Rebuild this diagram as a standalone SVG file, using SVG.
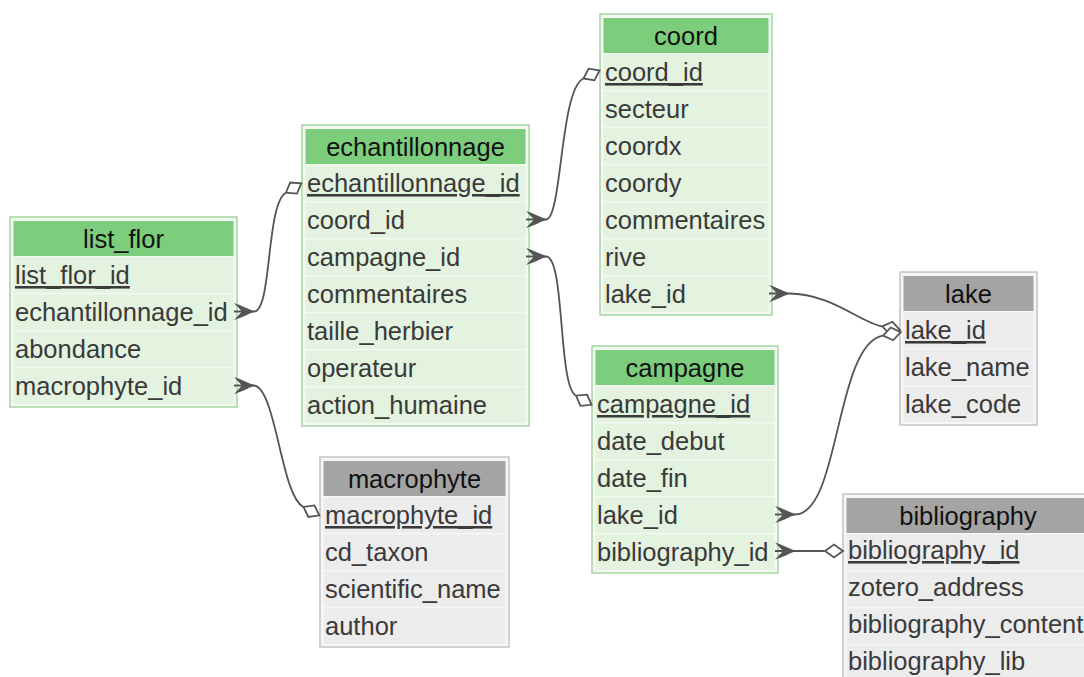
<svg xmlns="http://www.w3.org/2000/svg" width="1084" height="677" viewBox="0 0 1084 677">
<style>
.fg{fill:#f1f9f0;stroke:#a6d3a2;stroke-width:1.5}
.fk{fill:#f6f6f6;stroke:#c4c4c4;stroke-width:1.5}
.hg{fill:#7ccd7c}
.hk{fill:#a4a4a4}
.rg{fill:#e3f3e0}
.rk{fill:#ececec}
.title{font-family:"Liberation Sans",Arial,sans-serif;font-size:25.5px;fill:#111;text-anchor:middle}
.col{font-family:"Liberation Sans",Arial,sans-serif;font-size:25.5px;fill:#3a3a3a}
.pk{text-decoration:underline}
.conn{fill:none;stroke:#555;stroke-width:1.8}
</style>
<defs>
<marker id="many" markerUnits="userSpaceOnUse" orient="auto" refX="0" refY="0" markerWidth="30" markerHeight="30" style="overflow:visible">
<path d="M0,-8.5 C7,-6.5 13,-3 21,0 C13,3 7,6.5 0,8.5 L8,0 Z" fill="#555"/>
</marker>
<marker id="one" markerUnits="userSpaceOnUse" orient="auto" refX="0" refY="0" markerWidth="30" markerHeight="30" style="overflow:visible">
<path d="M0.5,0 L9.5,-6.5 L18.5,0 L9.5,6.5 Z" fill="#fff" stroke="#555" stroke-width="1.8"/>
</marker>
</defs>
<rect width="1084" height="677" fill="#fff"/>

<g id="list_flor" transform="translate(10,217)">
<rect class="fg" x="0" y="0" width="227" height="190"/>
<rect class="hg" x="3.5" y="4" width="220" height="35"/>
<text class="title" x="113.5" y="31">list_flor</text>
<rect class="rg" x="3.5" y="40.5" width="220" height="35.5"/>
<rect class="rg" x="3.5" y="77.5" width="220" height="35.5"/>
<rect class="rg" x="3.5" y="114.5" width="220" height="35.5"/>
<rect class="rg" x="3.5" y="151.5" width="220" height="35.5"/>
<text class="col pk" x="5" y="67">list_flor_id</text>
<text class="col" x="5" y="104">echantillonnage_id</text>
<text class="col" x="5" y="141">abondance</text>
<text class="col" x="5" y="178">macrophyte_id</text>
</g>

<g id="echantillonnage" transform="translate(302,125)">
<rect class="fg" x="0" y="0" width="227" height="301"/>
<rect class="hg" x="3.5" y="4" width="220" height="35"/>
<text class="title" x="113.5" y="31">echantillonnage</text>
<rect class="rg" x="3.5" y="40.5" width="220" height="35.5"/>
<rect class="rg" x="3.5" y="77.5" width="220" height="35.5"/>
<rect class="rg" x="3.5" y="114.5" width="220" height="35.5"/>
<rect class="rg" x="3.5" y="151.5" width="220" height="35.5"/>
<rect class="rg" x="3.5" y="188.5" width="220" height="35.5"/>
<rect class="rg" x="3.5" y="225.5" width="220" height="35.5"/>
<rect class="rg" x="3.5" y="262.5" width="220" height="35.5"/>
<text class="col pk" x="5" y="67">echantillonnage_id</text>
<text class="col" x="5" y="104">coord_id</text>
<text class="col" x="5" y="141">campagne_id</text>
<text class="col" x="5" y="178">commentaires</text>
<text class="col" x="5" y="215">taille_herbier</text>
<text class="col" x="5" y="252">operateur</text>
<text class="col" x="5" y="289">action_humaine</text>
</g>

<g id="coord" transform="translate(600,14)">
<rect class="fg" x="0" y="0" width="172" height="301"/>
<rect class="hg" x="3.5" y="4" width="165" height="35"/>
<text class="title" x="86" y="31">coord</text>
<rect class="rg" x="3.5" y="40.5" width="165" height="35.5"/>
<rect class="rg" x="3.5" y="77.5" width="165" height="35.5"/>
<rect class="rg" x="3.5" y="114.5" width="165" height="35.5"/>
<rect class="rg" x="3.5" y="151.5" width="165" height="35.5"/>
<rect class="rg" x="3.5" y="188.5" width="165" height="35.5"/>
<rect class="rg" x="3.5" y="225.5" width="165" height="35.5"/>
<rect class="rg" x="3.5" y="262.5" width="165" height="35.5"/>
<text class="col pk" x="5" y="67">coord_id</text>
<text class="col" x="5" y="104">secteur</text>
<text class="col" x="5" y="141">coordx</text>
<text class="col" x="5" y="178">coordy</text>
<text class="col" x="5" y="215">commentaires</text>
<text class="col" x="5" y="252">rive</text>
<text class="col" x="5" y="289">lake_id</text>
</g>

<g id="lake" transform="translate(900,272)">
<rect class="fk" x="0" y="0" width="137" height="153"/>
<rect class="hk" x="3.5" y="4" width="130" height="35"/>
<text class="title" x="68.5" y="31">lake</text>
<rect class="rk" x="3.5" y="40.5" width="130" height="35.5"/>
<rect class="rk" x="3.5" y="77.5" width="130" height="35.5"/>
<rect class="rk" x="3.5" y="114.5" width="130" height="35.5"/>
<text class="col pk" x="5" y="67">lake_id</text>
<text class="col" x="5" y="104">lake_name</text>
<text class="col" x="5" y="141">lake_code</text>
</g>

<g id="campagne" transform="translate(592,346)">
<rect class="fg" x="0" y="0" width="186" height="227"/>
<rect class="hg" x="3.5" y="4" width="179" height="35"/>
<text class="title" x="93" y="31">campagne</text>
<rect class="rg" x="3.5" y="40.5" width="179" height="35.5"/>
<rect class="rg" x="3.5" y="77.5" width="179" height="35.5"/>
<rect class="rg" x="3.5" y="114.5" width="179" height="35.5"/>
<rect class="rg" x="3.5" y="151.5" width="179" height="35.5"/>
<rect class="rg" x="3.5" y="188.5" width="179" height="35.5"/>
<text class="col pk" x="5" y="67">campagne_id</text>
<text class="col" x="5" y="104">date_debut</text>
<text class="col" x="5" y="141">date_fin</text>
<text class="col" x="5" y="178">lake_id</text>
<text class="col" x="5" y="215">bibliography_id</text>
</g>

<g id="macrophyte" transform="translate(320,457)">
<rect class="fk" x="0" y="0" width="189" height="190"/>
<rect class="hk" x="3.5" y="4" width="182" height="35"/>
<text class="title" x="94.5" y="31">macrophyte</text>
<rect class="rk" x="3.5" y="40.5" width="182" height="35.5"/>
<rect class="rk" x="3.5" y="77.5" width="182" height="35.5"/>
<rect class="rk" x="3.5" y="114.5" width="182" height="35.5"/>
<rect class="rk" x="3.5" y="151.5" width="182" height="35.5"/>
<text class="col pk" x="5" y="67">macrophyte_id</text>
<text class="col" x="5" y="104">cd_taxon</text>
<text class="col" x="5" y="141">scientific_name</text>
<text class="col" x="5" y="178">author</text>
</g>

<g id="bibliography" transform="translate(843,494)">
<rect class="fk" x="0" y="0" width="250" height="190"/>
<rect class="hk" x="3.5" y="4" width="243" height="35"/>
<text class="title" x="125" y="31">bibliography</text>
<rect class="rk" x="3.5" y="40.5" width="243" height="35.5"/>
<rect class="rk" x="3.5" y="77.5" width="243" height="35.5"/>
<rect class="rk" x="3.5" y="114.5" width="243" height="35.5"/>
<rect class="rk" x="3.5" y="151.5" width="243" height="35.5"/>
<text class="col pk" x="5" y="65">bibliography_id</text>
<text class="col" x="5" y="102">zotero_address</text>
<text class="col" x="5" y="139">bibliography_content</text>
<text class="col" x="5" y="176">bibliography_lib</text>
</g>

<g id="connectors">
<path class="conn" marker-start="url(#many)" marker-end="url(#one)" d="M234,311.5 H254 C272,311.5 266,205 285.5,193"/>
<path class="conn" marker-start="url(#many)" marker-end="url(#one)" d="M234,385.5 H254 C276,388 281,495 303,506.7"/>
<path class="conn" marker-start="url(#many)" marker-end="url(#one)" d="M526,219.5 H546 C562,219.5 560,90 583,78.7"/>
<path class="conn" marker-start="url(#many)" marker-end="url(#one)" d="M526,256.5 H546 C565,256.5 558,385 575.6,395.4"/>
<path class="conn" marker-start="url(#many)" marker-end="url(#one)" d="M769,293.5 H789 C830,293.5 860,322 881.8,326.3"/>
<path class="conn" marker-start="url(#many)" marker-end="url(#one)" d="M775,514.5 H795 C840,514.5 835,345 882.6,335.7"/>
<path class="conn" marker-start="url(#many)" marker-end="url(#one)" d="M775,551 H824.5"/>
</g>
</svg>
